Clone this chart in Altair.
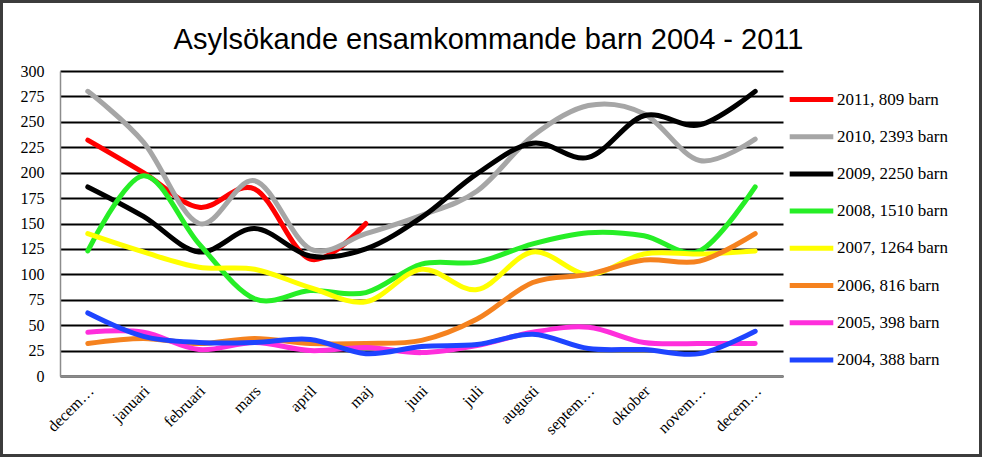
import altair as alt
import pandas as pd

months = ["decem…", "januari", "februari", "mars", "april", "maj", "juni",
          "juli", "augusti", "septem…", "oktober", "novem…", "decem…"]

series_names = ["2011, 809 barn", "2010, 2393 barn", "2009, 2250 barn",
                "2008, 1510 barn", "2007, 1264 barn", "2006, 816 barn",
                "2005, 398 barn", "2004, 388 barn"]
series_colors = ["#FF0000", "#A6A6A6", "#000000", "#26EE26", "#FFFF00",
                 "#F5821F", "#FF2EDC", "#1E44FF"]

v2011 = [232, 200, 166, 184, 115, 150]
v2010 = [280, 230, 150, 192, 125, 140, 158, 182, 236, 266, 258, 212, 233]
v2009 = [186, 157, 122, 145, 118, 125, 156, 199, 229, 215, 256, 247, 280]
v2008 = [123, 197, 130, 76, 84, 82, 110, 112, 130, 141, 138, 123, 186]
v2007 = [140, 122, 107, 105, 87, 73, 105, 85, 122, 100, 120, 120, 123]
v2006 = [32, 37, 32, 37, 32, 32, 35, 56, 92, 100, 114, 113, 140]
v2005 = [43, 43, 26, 33, 25, 28, 23, 30, 43, 48, 33, 32, 32]
v2004 = [62, 39, 33, 33, 36, 22, 29, 31, 41, 27, 26, 22, 44]

all_vals = [v2011, v2010, v2009, v2008, v2007, v2006, v2005, v2004]
# drawing order (later = on top)
draw_rank = {"2011, 809 barn": 0, "2010, 2393 barn": 2, "2009, 2250 barn": 3,
             "2007, 1264 barn": 1, "2006, 816 barn": 4, "2008, 1510 barn": 5,
             "2005, 398 barn": 6, "2004, 388 barn": 7}

rows = []
for name, vals in zip(series_names, all_vals):
    for i, v in enumerate(vals):
        rows.append({"serie": name, "idx": i, "antal": v, "rank": draw_rank[name]})
df = pd.DataFrame(rows)

label_expr = "[" + ",".join("'" + m + "'" for m in months) + "][datum.value]"

x_enc = alt.X("idx:Q", scale=alt.Scale(domain=[-0.5, 12.5], nice=False, zero=False),
              axis=alt.Axis(values=list(range(13)), labelExpr=label_expr, labelAngle=-45,
                            labelAlign="right", labelBaseline="middle",
                            labelFont="Liberation Serif", labelFontSize=16,
                            labelColor="#000000", labelPadding=12, labelOffset=3,
                            ticks=False, grid=False, domainColor="#8c8c8c",
                            domainWidth=1.5, title=None))
y_enc = alt.Y("antal:Q", scale=alt.Scale(domain=[0, 300], nice=False),
              axis=alt.Axis(values=list(range(0, 301, 25)), labelFont="Liberation Serif",
                            labelFontSize=16, labelColor="#000000", labelPadding=16,
                            ticks=False, grid=True, gridColor="#000000", gridWidth=2,
                            domainColor="#8c8c8c", domainWidth=1.5, title=None))

lines = alt.Chart(df).mark_line(interpolate="cardinal", tension=0, strokeWidth=5,
                                strokeCap="round").encode(
    x=x_enc,
    y=y_enc,
    color=alt.Color("serie:N", scale=alt.Scale(domain=series_names, range=series_colors),
                    legend=alt.Legend(title=None, orient="none", legendX=727, legendY=4,
                                      symbolType="stroke", symbolSize=1900,
                                      symbolStrokeWidth=5, labelFont="Liberation Serif",
                                      labelFontSize=17, labelColor="#000000",
                                      labelOffset=1, rowPadding=2.2, symbolLimit=0)),
    detail="serie:N",
    order=alt.Order("rank:Q"),
)

frame_df = pd.DataFrame({"a": [0]})
frame = alt.Chart(frame_df).mark_rect(fill=None, stroke="#3c3c3c", strokeWidth=3).encode(
    x=alt.value(-58.5), x2=alt.value(920.5), y=alt.value(-69.5), y2=alt.value(384.5)
)

chart = alt.layer(lines, frame).properties(
    width=723, height=305,
    title=alt.TitleParams("Asylsökande ensamkommande barn 2004 - 2011",
                          font="Liberation Sans", fontSize=29, fontWeight="normal",
                          color="#000000", anchor="middle", dx=67, offset=-55),
    autosize=alt.AutoSizeParams(type="none"),
    padding={"left": 60, "top": 71, "right": 199, "bottom": 81},
    background="white",
).configure_view(stroke=None)

chart.save("out.html", embed_options={"renderer": "svg", "actions": False})
